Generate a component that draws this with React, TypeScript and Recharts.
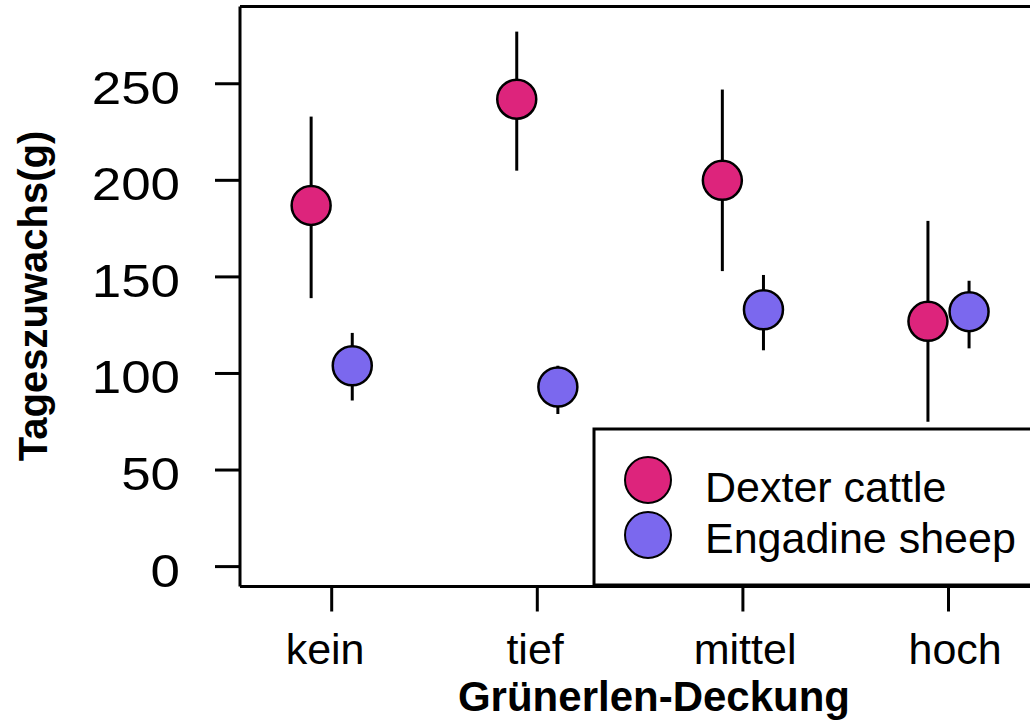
import React from 'react'
import { ScatterChart, Scatter, XAxis, YAxis, ErrorBar, ReferenceLine, Customized } from 'recharts'

const categories = ['kein', 'tief', 'mittel', 'hoch']
const yTicks = [0, 50, 100, 150, 200, 250]

const dexterMean = [187, 242, 200, 127]
const dexterLow = [139, 205, 153, 75]
const dexterHigh = [233, 277, 247, 179]

const sheepMean = [104, 93, 133, 132]
const sheepLow = [86, 79, 112, 113]
const sheepHigh = [121, 104, 151, 148]

const seriesNames = ['Dexter cattle', 'Engadine sheep']

const DEXTER = '#DD247C'
const SHEEP = '#7B68EE'
const FONT = '"Liberation Sans", Arial, sans-serif'

const X_DOMAIN: [number, number] = [0.554, 4.445]
const Y_DOMAIN: [number, number] = [-10.3, 290]

// the chart fills the whole window, so drop the default body margin
if (typeof document !== 'undefined') document.body.style.margin = '0'

const build = (mean: number[], low: number[], high: number[], shift: number) =>
  mean.map((m, i) => ({
    x: i + 1 + shift,
    y: m,
    err: [m - low[i], high[i] - m],
  }))

const dexterData = build(dexterMean, dexterLow, dexterHigh, -0.1)
const sheepData = build(sheepMean, sheepLow, sheepHigh, 0.1)

const dot = (color: string) => (props: any) => (
  <circle cx={props.cx} cy={props.cy} r={19.5} fill={color} stroke="#000" strokeWidth={2.5} />
)

const YTick = (props: any) => {
  const { x, y, payload } = props
  return (
    <text
      transform={`translate(${x},${y}) scale(1.15,1)`}
      textAnchor="end"
      dy={20}
      fontSize={46}
      fontFamily={FONT}
      fill="#000"
    >
      {payload.value}
    </text>
  )
}

// labels in the original sit a bit wider apart than the ticks
const XTick = (props: any) => {
  const { x, y, payload } = props
  return (
    <text
      x={x + (payload.value - 2.5) * 4.4}
      y={y}
      dy={52}
      textAnchor="middle"
      fontSize={43}
      fontFamily={FONT}
      fill="#000"
    >
      {categories[payload.value - 1]}
    </text>
  )
}

const YTitle = () => (
  <text
    transform="translate(47,296) rotate(-90)"
    textAnchor="middle"
    fontSize={40}
    fontWeight="bold"
    fontFamily={FONT}
    fill="#000"
  >
    Tageszuwachs(g)
  </text>
)

const XTitle = () => (
  <text x={654} y={711} textAnchor="middle" fontSize={42} fontWeight="bold" fontFamily={FONT} fill="#000">
    Grünerlen-Deckung
  </text>
)

const LegendBox = () => {
  const x0 = 594
  const y0 = 429
  const colors = [DEXTER, SHEEP]
  return (
    <g>
      <rect x={x0} y={y0} width={480} height={156} fill="#fff" />
      <path d={`M${x0 + 480},${y0} H${x0} V${y0 + 156} H${x0 + 480}`} fill="none" stroke="#000" strokeWidth={3} />
      {seriesNames.map((name, i) => (
        <g key={name}>
          <circle cx={x0 + 54} cy={y0 + 51 + i * 55} r={23} fill={colors[i]} stroke="#000" strokeWidth={2} />
          <text x={x0 + 111} y={y0 + 73 + i * 51} fontSize={43} fontFamily={FONT} fill="#000">
            {name}
          </text>
        </g>
      ))}
    </g>
  )
}

export default function App() {
  return (
    <div style={{ width: 1030, height: 724, overflow: 'hidden', position: 'relative', background: '#fff' }}>
      <ScatterChart width={1060} height={724} margin={{ top: 6.5, right: 20, bottom: 0, left: 0 }}>
        <XAxis
          type="number"
          dataKey="x"
          domain={X_DOMAIN}
          allowDataOverflow
          ticks={[1, 2, 3, 4]}
          height={137.5}
          axisLine={{ stroke: '#000', strokeWidth: 3 }}
          tickLine={{ stroke: '#000', strokeWidth: 3 }}
          tickSize={25}
          tickMargin={0}
          tick={<XTick />}
          interval={0}
          label={{ content: () => <XTitle /> }}
        />
        <YAxis
          type="number"
          dataKey="y"
          domain={Y_DOMAIN}
          allowDataOverflow
          ticks={yTicks}
          width={240}
          axisLine={{ stroke: '#000', strokeWidth: 3 }}
          tickLine={{ stroke: '#000', strokeWidth: 3 }}
          tickSize={25}
          tickMargin={35}
          tick={<YTick />}
          interval={0}
          label={{ content: () => <YTitle /> }}
        />
        <ReferenceLine y={Y_DOMAIN[1]} stroke="#000" strokeWidth={3} ifOverflow="visible" />
        <Scatter data={dexterData} shape={() => <g />} isAnimationActive={false} legendType="none">
          <ErrorBar dataKey="err" direction="y" width={0} stroke="#000" strokeWidth={3} />
        </Scatter>
        <Scatter data={sheepData} shape={() => <g />} isAnimationActive={false} legendType="none">
          <ErrorBar dataKey="err" direction="y" width={0} stroke="#000" strokeWidth={3} />
        </Scatter>
        <Scatter name={seriesNames[0]} data={dexterData} shape={dot(DEXTER)} isAnimationActive={false} />
        <Scatter name={seriesNames[1]} data={sheepData} shape={dot(SHEEP)} isAnimationActive={false} />
        <Customized component={LegendBox} />
      </ScatterChart>
    </div>
  )
}
